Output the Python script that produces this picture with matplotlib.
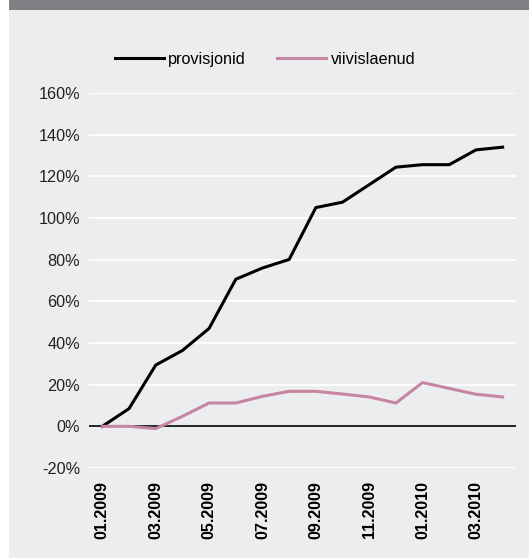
import matplotlib
matplotlib.use("Agg")
import matplotlib.pyplot as plt
from matplotlib.patches import Rectangle
from matplotlib.ticker import FuncFormatter

plt.rcParams['font.family'] = ['Liberation Sans', 'DejaVu Sans']

months = ["01.2009", "02.2009", "03.2009", "04.2009", "05.2009", "06.2009",
          "07.2009", "08.2009", "09.2009", "10.2009", "11.2009", "12.2009",
          "01.2010", "02.2010", "03.2010", "04.2010"]
provisjonid = [0, 8.5, 29.4, 36.4, 47, 70.6, 76, 80.1, 105, 107.6, 116, 124.4,
               125.6, 125.6, 132.7, 134]
viivislaenud = [0, 0, -1.1, 4.8, 11.2, 11.2, 14.4, 16.8, 16.8, 15.5, 14.1, 11.2,
                21, 18.2, 15.4, 14.1]
y_ticks = [-20, 0, 20, 40, 60, 80, 100, 120, 140, 160]

W, H = 529, 558
fig = plt.figure(figsize=(W / 100, H / 100), dpi=100)
fig.patch.set_facecolor("white")
bg = "#ecedef"
fig.patches.append(Rectangle((9 / W, 0), 1 - 9 / W, 1, transform=fig.transFigure,
                             facecolor=bg, edgecolor="none", zorder=-2))
fig.patches.append(Rectangle((9 / W, 1 - 10 / H), 1 - 9 / W, 10 / H, transform=fig.transFigure,
                             facecolor="#807f84", edgecolor="none", zorder=-1))

ax = fig.add_axes([89 / W, 1 - 468 / H, (516 - 89) / W, (468 - 93) / H])
ax.set_facecolor(bg)
for s in ax.spines.values():
    s.set_visible(False)

x = list(range(len(months)))
ax.set_ylim(-20, 160)
ax.set_xlim(-0.5, len(months) - 0.5)
ax.set_yticks(y_ticks)
ax.yaxis.set_major_formatter(FuncFormatter(lambda v, p: f"{int(v)}%"))
ax.grid(axis="y", color="white", linewidth=1.3)
ax.set_axisbelow(True)
ax.axhline(0, color="black", linewidth=1.2, zorder=2)

ax.plot(x, provisjonid, color="black", linewidth=2.2, label="provisjonid", zorder=3)
ax.plot(x, viivislaenud, color="#c685a0", linewidth=2.2, label="viivislaenud", zorder=3)

ax.set_xticks(x[::2])
ax.set_xticklabels(months[::2], rotation=90, fontweight="bold", fontsize=11.6)
ax.tick_params(axis="x", length=0, pad=9.5)
ax.tick_params(axis="y", length=0, pad=6.5, labelsize=11.7, labelcolor="#222222")

fig.legend(loc="center", bbox_to_anchor=(265 / W, 1 - 59 / H), ncol=2, frameon=False,
           fontsize=11.7, handlelength=3.0, handletextpad=0.3, columnspacing=1.9)

fig.savefig("out.png", dpi=100)
